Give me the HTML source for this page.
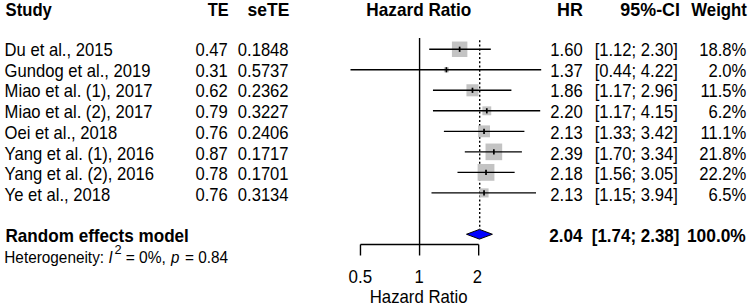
<!DOCTYPE html><html><head><meta charset="utf-8"><style>html,body{margin:0;padding:0;background:#fff;}svg{display:block;}text{font-family:"Liberation Sans",sans-serif;fill:#000;}</style></head><body>
<svg width="750" height="307" viewBox="0 0 750 307">
<rect x="0" y="0" width="750" height="307" fill="#fff"/>
<text transform="translate(5.57,15.90) scale(0.9160,1)" style="font-size:18.2px;font-weight:bold;">Study</text>
<text transform="translate(207.67,15.90) scale(0.8988,1)" style="font-size:18.2px;font-weight:bold;">TE</text>
<text transform="translate(247.60,15.90) scale(0.9582,1)" style="font-size:18.2px;font-weight:bold;">seTE</text>
<text transform="translate(366.37,15.90) scale(0.9438,1)" style="font-size:18.2px;font-weight:bold;">Hazard Ratio</text>
<text transform="translate(557.01,15.90) scale(0.9813,1)" style="font-size:18.2px;font-weight:bold;">HR</text>
<text transform="translate(620.36,15.90) scale(0.9830,1)" style="font-size:18.2px;font-weight:bold;">95%-CI</text>
<text transform="translate(691.31,15.90) scale(0.9224,1)" style="font-size:18.2px;font-weight:bold;">Weight</text>
<text transform="translate(4.60,55.90) scale(0.9240,1)" style="font-size:18.0px;">Du et al., 2015</text>
<text transform="translate(227.80,55.90) scale(0.9240,1)" style="font-size:18.0px;" text-anchor="end">0.47</text>
<text transform="translate(288.60,55.90) scale(0.9240,1)" style="font-size:18.0px;" text-anchor="end">0.1848</text>
<text transform="translate(582.70,55.90) scale(0.9240,1)" style="font-size:18.0px;" text-anchor="end">1.60</text>
<text transform="translate(677.80,55.90) scale(0.9240,1)" style="font-size:18.0px;" text-anchor="end">[1.12; 2.30]</text>
<text transform="translate(746.30,55.90) scale(0.9240,1)" style="font-size:18.0px;" text-anchor="end">18.8%</text>
<text transform="translate(4.60,76.62) scale(0.9240,1)" style="font-size:18.0px;">Gundog et al., 2019</text>
<text transform="translate(227.80,76.62) scale(0.9240,1)" style="font-size:18.0px;" text-anchor="end">0.31</text>
<text transform="translate(288.60,76.62) scale(0.9240,1)" style="font-size:18.0px;" text-anchor="end">0.5737</text>
<text transform="translate(582.70,76.62) scale(0.9240,1)" style="font-size:18.0px;" text-anchor="end">1.37</text>
<text transform="translate(677.80,76.62) scale(0.9240,1)" style="font-size:18.0px;" text-anchor="end">[0.44; 4.22]</text>
<text transform="translate(746.30,76.62) scale(0.9240,1)" style="font-size:18.0px;" text-anchor="end">2.0%</text>
<text transform="translate(4.60,97.34) scale(0.9240,1)" style="font-size:18.0px;">Miao et al. (1), 2017</text>
<text transform="translate(227.80,97.34) scale(0.9240,1)" style="font-size:18.0px;" text-anchor="end">0.62</text>
<text transform="translate(288.60,97.34) scale(0.9240,1)" style="font-size:18.0px;" text-anchor="end">0.2362</text>
<text transform="translate(582.70,97.34) scale(0.9240,1)" style="font-size:18.0px;" text-anchor="end">1.86</text>
<text transform="translate(677.80,97.34) scale(0.9240,1)" style="font-size:18.0px;" text-anchor="end">[1.17; 2.96]</text>
<text transform="translate(746.30,97.34) scale(0.9240,1)" style="font-size:18.0px;" text-anchor="end">11.5%</text>
<text transform="translate(4.60,118.06) scale(0.9240,1)" style="font-size:18.0px;">Miao et al. (2), 2017</text>
<text transform="translate(227.80,118.06) scale(0.9240,1)" style="font-size:18.0px;" text-anchor="end">0.79</text>
<text transform="translate(288.60,118.06) scale(0.9240,1)" style="font-size:18.0px;" text-anchor="end">0.3227</text>
<text transform="translate(582.70,118.06) scale(0.9240,1)" style="font-size:18.0px;" text-anchor="end">2.20</text>
<text transform="translate(677.80,118.06) scale(0.9240,1)" style="font-size:18.0px;" text-anchor="end">[1.17; 4.15]</text>
<text transform="translate(746.30,118.06) scale(0.9240,1)" style="font-size:18.0px;" text-anchor="end">6.2%</text>
<text transform="translate(4.60,138.78) scale(0.9240,1)" style="font-size:18.0px;">Oei et al., 2018</text>
<text transform="translate(227.80,138.78) scale(0.9240,1)" style="font-size:18.0px;" text-anchor="end">0.76</text>
<text transform="translate(288.60,138.78) scale(0.9240,1)" style="font-size:18.0px;" text-anchor="end">0.2406</text>
<text transform="translate(582.70,138.78) scale(0.9240,1)" style="font-size:18.0px;" text-anchor="end">2.13</text>
<text transform="translate(677.80,138.78) scale(0.9240,1)" style="font-size:18.0px;" text-anchor="end">[1.33; 3.42]</text>
<text transform="translate(746.30,138.78) scale(0.9240,1)" style="font-size:18.0px;" text-anchor="end">11.1%</text>
<text transform="translate(4.60,159.50) scale(0.9240,1)" style="font-size:18.0px;">Yang et al. (1), 2016</text>
<text transform="translate(227.80,159.50) scale(0.9240,1)" style="font-size:18.0px;" text-anchor="end">0.87</text>
<text transform="translate(288.60,159.50) scale(0.9240,1)" style="font-size:18.0px;" text-anchor="end">0.1717</text>
<text transform="translate(582.70,159.50) scale(0.9240,1)" style="font-size:18.0px;" text-anchor="end">2.39</text>
<text transform="translate(677.80,159.50) scale(0.9240,1)" style="font-size:18.0px;" text-anchor="end">[1.70; 3.34]</text>
<text transform="translate(746.30,159.50) scale(0.9240,1)" style="font-size:18.0px;" text-anchor="end">21.8%</text>
<text transform="translate(4.60,180.22) scale(0.9240,1)" style="font-size:18.0px;">Yang et al. (2), 2016</text>
<text transform="translate(227.80,180.22) scale(0.9240,1)" style="font-size:18.0px;" text-anchor="end">0.78</text>
<text transform="translate(288.60,180.22) scale(0.9240,1)" style="font-size:18.0px;" text-anchor="end">0.1701</text>
<text transform="translate(582.70,180.22) scale(0.9240,1)" style="font-size:18.0px;" text-anchor="end">2.18</text>
<text transform="translate(677.80,180.22) scale(0.9240,1)" style="font-size:18.0px;" text-anchor="end">[1.56; 3.05]</text>
<text transform="translate(746.30,180.22) scale(0.9240,1)" style="font-size:18.0px;" text-anchor="end">22.2%</text>
<text transform="translate(4.60,200.94) scale(0.9240,1)" style="font-size:18.0px;">Ye et al., 2018</text>
<text transform="translate(227.80,200.94) scale(0.9240,1)" style="font-size:18.0px;" text-anchor="end">0.76</text>
<text transform="translate(288.60,200.94) scale(0.9240,1)" style="font-size:18.0px;" text-anchor="end">0.3134</text>
<text transform="translate(582.70,200.94) scale(0.9240,1)" style="font-size:18.0px;" text-anchor="end">2.13</text>
<text transform="translate(677.80,200.94) scale(0.9240,1)" style="font-size:18.0px;" text-anchor="end">[1.15; 3.94]</text>
<text transform="translate(746.30,200.94) scale(0.9240,1)" style="font-size:18.0px;" text-anchor="end">6.5%</text>
<text transform="translate(5.49,241.90) scale(0.9398,1)" style="font-size:18.2px;font-weight:bold;">Random effects model</text>
<text transform="translate(549.29,241.90) scale(0.9389,1)" style="font-size:18.2px;font-weight:bold;">2.04</text>
<text transform="translate(591.81,241.90) scale(0.9307,1)" style="font-size:18.2px;font-weight:bold;">[1.74; 2.38]</text>
<text transform="translate(686.92,241.90) scale(0.9547,1)" style="font-size:18.2px;font-weight:bold;">100.0%</text>
<text transform="translate(4.27,262.90) scale(0.9415,1)" style="font-size:16.3px;">Heterogeneity:</text>
<text transform="translate(108.38,262.90) scale(0.9300,1)" style="font-size:16.3px;font-style:italic;">I</text>
<text x="114.51" y="253.50" style="font-size:12.8px;">2</text>
<text transform="translate(125.68,262.90) scale(0.9558,1)" style="font-size:16.3px;">= 0%,</text>
<text transform="translate(171.10,262.90) scale(0.9300,1)" style="font-size:16.3px;font-style:italic;">p</text>
<text transform="translate(184.98,262.90) scale(0.9418,1)" style="font-size:16.3px;">= 0.84</text>
<line x1="419.57" y1="38" x2="419.57" y2="244.5" stroke="#000" stroke-width="1.4"/>
<line x1="479.70" y1="40.3" x2="479.70" y2="229" stroke="#000" stroke-width="1.4" stroke-dasharray="2 2.19"/>
<rect x="451.91" y="41.53" width="15.46" height="15.46" fill="#c3c3c3"/>
<line x1="429.23" y1="49.26" x2="490.80" y2="49.26" stroke="#000" stroke-width="1.4"/>
<line x1="459.64" y1="46.66" x2="459.64" y2="51.86" stroke="#000" stroke-width="1.7"/>
<rect x="443.89" y="67.26" width="5.04" height="5.04" fill="#c3c3c3"/>
<line x1="350.50" y1="69.78" x2="541.20" y2="69.78" stroke="#000" stroke-width="1.4"/>
<line x1="446.41" y1="67.18" x2="446.41" y2="72.38" stroke="#000" stroke-width="1.7"/>
<rect x="466.44" y="84.25" width="12.09" height="12.09" fill="#c3c3c3"/>
<line x1="432.96" y1="90.30" x2="511.40" y2="90.30" stroke="#000" stroke-width="1.4"/>
<line x1="472.48" y1="87.70" x2="472.48" y2="92.90" stroke="#000" stroke-width="1.7"/>
<rect x="482.36" y="106.38" width="8.88" height="8.88" fill="#c3c3c3"/>
<line x1="432.96" y1="110.82" x2="540.20" y2="110.82" stroke="#000" stroke-width="1.4"/>
<line x1="486.80" y1="108.22" x2="486.80" y2="113.42" stroke="#000" stroke-width="1.7"/>
<rect x="478.10" y="125.40" width="11.88" height="11.88" fill="#c3c3c3"/>
<line x1="443.89" y1="131.34" x2="524.41" y2="131.34" stroke="#000" stroke-width="1.4"/>
<line x1="484.04" y1="128.74" x2="484.04" y2="133.94" stroke="#000" stroke-width="1.7"/>
<rect x="485.53" y="143.54" width="16.65" height="16.65" fill="#c3c3c3"/>
<line x1="464.81" y1="151.86" x2="521.90" y2="151.86" stroke="#000" stroke-width="1.4"/>
<line x1="493.86" y1="149.26" x2="493.86" y2="154.46" stroke="#000" stroke-width="1.7"/>
<rect x="477.62" y="163.98" width="16.80" height="16.80" fill="#c3c3c3"/>
<line x1="457.49" y1="172.38" x2="514.65" y2="172.38" stroke="#000" stroke-width="1.4"/>
<line x1="486.02" y1="169.78" x2="486.02" y2="174.98" stroke="#000" stroke-width="1.7"/>
<rect x="479.49" y="188.35" width="9.09" height="9.09" fill="#c3c3c3"/>
<line x1="431.49" y1="192.90" x2="536.00" y2="192.90" stroke="#000" stroke-width="1.4"/>
<line x1="484.04" y1="190.30" x2="484.04" y2="195.50" stroke="#000" stroke-width="1.7"/>
<polygon points="466.5,234.25 479.45,229.4 492.4,234.25 479.45,239.1" fill="#0000ff" stroke="#000" stroke-width="1" stroke-linejoin="round"/>
<line x1="360.46999999999997" y1="244.5" x2="478.67" y2="244.5" stroke="#000" stroke-width="1.4"/>
<line x1="360.46999999999997" y1="244.5" x2="360.46999999999997" y2="255.5" stroke="#000" stroke-width="1.4"/>
<line x1="419.57" y1="244.5" x2="419.57" y2="255.5" stroke="#000" stroke-width="1.4"/>
<line x1="478.67" y1="244.5" x2="478.67" y2="255.5" stroke="#000" stroke-width="1.4"/>
<text transform="translate(360.38,282.60) scale(0.9424,1)" style="font-size:18.0px;" text-anchor="middle">0.5</text>
<text transform="translate(419.00,282.60) scale(0.9240,1)" style="font-size:18.0px;" text-anchor="middle">1</text>
<text transform="translate(477.48,282.60) scale(0.9240,1)" style="font-size:18.0px;" text-anchor="middle">2</text>
<text transform="translate(418.63,303.20) scale(0.9319,1)" style="font-size:18.0px;" text-anchor="middle">Hazard Ratio</text>
</svg></body></html>
